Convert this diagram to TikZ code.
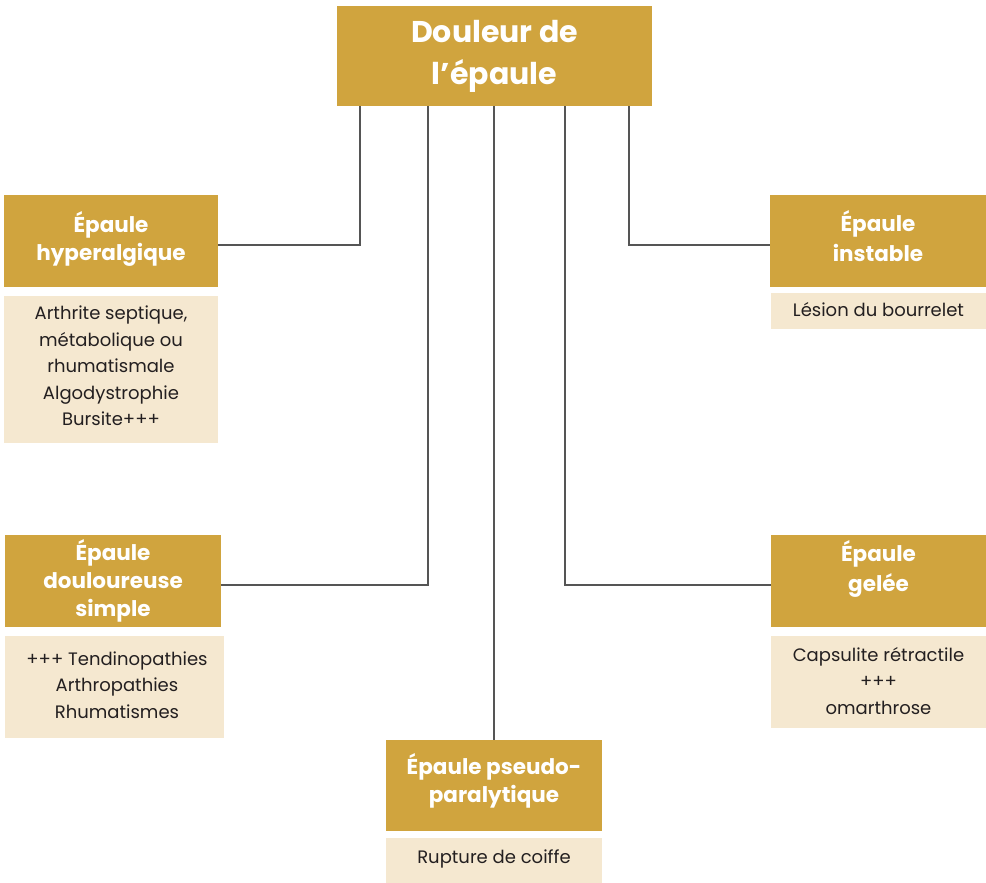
\documentclass[tikz,border=0pt]{standalone}
\usepackage{fontspec}
\setmainfont{Poppins}
\definecolor{gold}{RGB}{208,164,62}
\definecolor{cream}{RGB}{245,232,208}
\definecolor{lineg}{RGB}{85,85,85}
\definecolor{ink}{RGB}{35,31,32}
\tikzset{
  hdrbox/.style={fill=gold, inner sep=0pt},
  bodybox/.style={fill=cream, inner sep=0pt},
  hdrtext/.style={text=white, align=center, font=\fontsize{21.5}{28}\selectfont\bfseries, inner sep=0pt},
  titletext/.style={text=white, align=center, font=\fontsize{30}{42}\selectfont\bfseries, inner sep=0pt},
  bodytext/.style={text=ink, align=center, font=\fontsize{18}{26.5}\selectfont, inner sep=0pt},
  conn/.style={draw=lineg, line width=1.4pt}
}
\begin{document}
\begin{tikzpicture}[x=1pt,y=-1pt]
\useasboundingbox (0,0) rectangle (986,883);
% boxes
\node[hdrbox, minimum width=315pt, minimum height=100pt] (top) at (494.5,56) {};
\node[hdrbox, minimum width=214pt, minimum height=92pt] (hyp) at (111,241) {};
\node[bodybox, minimum width=214pt, minimum height=147pt] (hypb) at (111,369.5) {};
\node[hdrbox, minimum width=216pt, minimum height=92pt] (dou) at (113,581) {};
\node[bodybox, minimum width=219pt, minimum height=102pt] (doub) at (114.5,687) {};
\node[hdrbox, minimum width=216pt, minimum height=91pt] (pse) at (494,785.5) {};
\node[bodybox, minimum width=216pt, minimum height=45pt] (pseb) at (494,860.5) {};
\node[hdrbox, minimum width=216pt, minimum height=92pt] (ins) at (878,241) {};
\node[bodybox, minimum width=215pt, minimum height=36pt] (insb) at (878.5,311) {};
\node[hdrbox, minimum width=215pt, minimum height=92pt] (gel) at (878.5,581) {};
\node[bodybox, minimum width=215pt, minimum height=92pt] (gelb) at (878.5,682) {};
% texts
\node[titletext] (topt) at (494.5,56) {Douleur de\\l’épaule};
\node[hdrtext] (hypt) at (111,239) {Épaule\\hyperalgique};
\node[bodytext] (hypbt) at (111,366) {Arthrite septique,\\métabolique ou\\rhumatismale\\Algodystrophie\\Bursite+++};
\node[hdrtext] (dout) at (113,581) {Épaule\\douloureuse\\simple};
\node[bodytext] (doubt) at (117,685) {+++ Tendinopathies\\Arthropathies\\Rhumatismes};
\node[hdrtext] (pset) at (494,781) {Épaule pseudo-\\paralytique};
\node[bodytext] (psebt) at (494,859) {Rupture de coiffe};
\node[hdrtext, text depth=0pt] (inst) at (878,236) {Épaule\\[2pt]instable};
\node[bodytext] (insbt) at (878.5,310) {Lésion du bourrelet};
\node[hdrtext] (gelt) at (878.5,569) {Épaule\\[2pt]gelée};
\node[bodytext] (gelbt) at (878.5,681) {Capsulite rétractile\\+++\\omarthrose};
% connectors
\coordinate (c1) at (360,0);
\coordinate (c2) at (428,0);
\coordinate (c3) at (494,0);
\coordinate (c4) at (565,0);
\coordinate (c5) at (629,0);
\draw[conn] (top.south -| c1) |- ([yshift=-4pt]hyp.east);
\draw[conn] (top.south -| c2) |- ([yshift=-4pt]dou.east);
\draw[conn] (top.south -| c3) -- (pse.north -| c3);
\draw[conn] (top.south -| c4) |- ([yshift=-4pt]gel.west);
\draw[conn] (top.south -| c5) |- ([yshift=-4pt]ins.west);
\end{tikzpicture}
\end{document}
